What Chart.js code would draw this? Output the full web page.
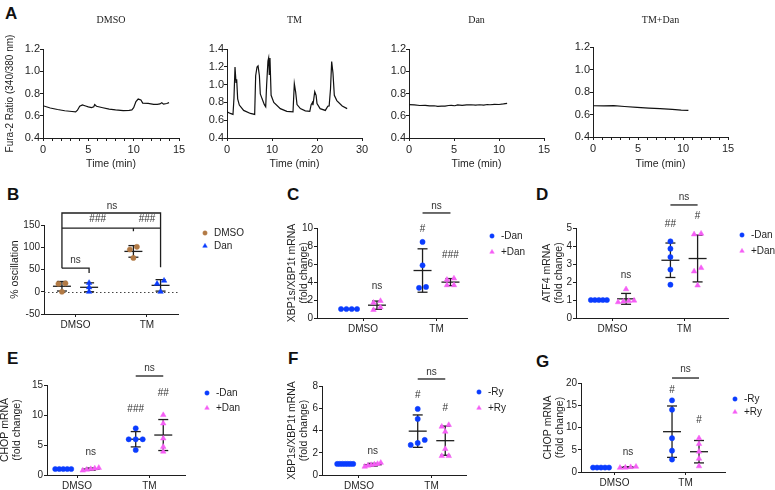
<!DOCTYPE html>
<html>
<head>
<meta charset="utf-8">
<script src="https://cdn.jsdelivr.net/npm/chart.js@4.4.1/dist/chart.umd.min.js"></script>
<style>
    html, body { margin: 0; padding: 0; background: #fff; }
    body { width: 775px; height: 490px; position: relative; overflow: hidden; }
    .letter { position: absolute; font: bold 17px "Liberation Sans", Arial, sans-serif; line-height: 17px; color: #111; }
</style>
</head>
<body>
<div class="letter" style="left:5px;top:5px">A</div>
<div class="letter" style="left:7px;top:186px">B</div>
<div class="letter" style="left:287px;top:186px">C</div>
<div class="letter" style="left:536px;top:186px">D</div>
<div class="letter" style="left:7px;top:350px">E</div>
<div class="letter" style="left:288px;top:350px">F</div>
<div class="letter" style="left:536px;top:353px">G</div>
<script>
// ---- A: Fura-2 ratio traces ----
const dmsoTime = [0, 0.8, 1.6, 2.4, 3.2, 3.6, 3.8, 4.05, 4.35, 4.7, 5.0, 5.35, 5.6, 5.7, 5.9, 6.6, 7.3, 8.0, 8.85, 9.5, 9.8, 10.0, 10.25, 10.5, 10.8, 11.0, 11.6, 12.2, 12.6, 12.9, 13.1, 13.3, 13.65, 13.9];
const dmsoRatio = [0.69, 0.67, 0.656, 0.645, 0.638, 0.634, 0.65, 0.686, 0.697, 0.688, 0.68, 0.674, 0.68, 0.70, 0.685, 0.672, 0.66, 0.652, 0.646, 0.648, 0.652, 0.672, 0.728, 0.75, 0.742, 0.714, 0.712, 0.702, 0.703, 0.706, 0.716, 0.704, 0.71, 0.718];

const tmTime = [0, 0.74, 1.33, 1.55, 1.78, 2.0, 2.15, 2.37, 2.74, 3.7, 5.2, 6.15, 6.37, 6.67, 6.9, 7.2, 7.4, 7.8, 8.3, 8.6, 8.8, 9.1, 9.26, 9.4, 9.55, 9.8, 10.4, 11.85, 13.3, 14.67, 14.96, 15.26, 15.56, 16.3, 17.4, 18.4, 18.7, 19.0, 19.1, 19.5, 19.8, 20.0, 20.7, 21.85, 22.4, 22.7, 23.0, 23.26, 23.55, 23.85, 24.4, 25.6, 26.7];
const tmRatio = [0.694, 0.676, 0.665, 0.85, 1.198, 1.025, 1.06, 0.84, 0.77, 0.71, 0.676, 0.665, 1.1, 1.198, 1.21, 1.1, 0.896, 0.84, 0.775, 0.75, 0.99, 1.264, 1.3, 1.116, 1.3, 0.88, 0.80, 0.73, 0.70, 0.694, 1.01, 0.915, 0.775, 0.73, 0.705, 0.70, 0.775, 0.80, 0.77, 0.92, 0.88, 0.786, 0.73, 0.71, 0.757, 0.76, 0.95, 1.26, 1.13, 0.88, 0.82, 0.76, 0.73];

const danTime = [0, 0.6, 1.2, 1.8, 2.3, 2.8, 3.2, 3.6, 4.0, 4.4, 4.7, 5.1, 5.4, 5.9, 6.4, 6.9, 7.4, 7.85, 8.3, 8.7, 9.0, 9.5, 10.0, 10.5, 10.9];
const danRatio = [0.70, 0.698, 0.692, 0.694, 0.688, 0.690, 0.684, 0.686, 0.686, 0.692, 0.694, 0.690, 0.698, 0.694, 0.697, 0.699, 0.695, 0.699, 0.696, 0.701, 0.699, 0.703, 0.701, 0.706, 0.712];

const tmDanTime = [0, 1.2, 2.3, 3.5, 4.9, 6.2, 7.45, 8.8, 9.8, 10.6];
const tmDanRatio = [0.678, 0.677, 0.679, 0.671, 0.663, 0.657, 0.652, 0.645, 0.639, 0.636];

// ---- B-G: scatter dot plots, one list per group ----
const groupNames = ['DMSO', 'TM'];

const bDmso = [[19, 18, 0], [101, 95, 76]];
const bDan = [[20, 10, 0], [25, 18, 0]];
const bBrackets = [
    [[0.81, 53], [0.81, 177], [2.19, 177], [2.19, 55]],
    [[0.81, 143], [2.19, 143]],
    [[1.81, 143], [1.81, 136]],
    [[0.81, 53], [1.19, 53], [1.19, 42]]
];
const bMarks = [
    { x: 1.51, y: 193, text: 'ns' },
    { x: 1.31, y: 163.5, text: '###' },
    { x: 2.0, y: 163.5, text: '###' },
    { x: 1.0, y: 71.3, text: 'ns' }
];

const cMinusDan = [[1, 1, 1, 1], [8.45, 5.85, 3.35, 3.45]];
const cPlusDan = [[1.9, 1.7, 1.2, 0.9], [4.25, 4.4, 3.65, 3.65]];
const cBrackets = [[[1.81, 11.67], [2.19, 11.67]]];
const cMarks = [
    { x: 2, y: 12.44, text: 'ns' },
    { x: 1.81, y: 9.89, text: '#' },
    { x: 2.19, y: 7.0, text: '###' },
    { x: 1.19, y: 3.56, text: 'ns' }
];

const dMinusDan = [[1, 1, 1, 1, 1], [4.26, 3.85, 3.39, 2.69, 1.85]];
const dPlusDan = [[1.6, 0.88, 0.92, 0.95, 0.97], [4.69, 4.65, 2.78, 2.59, 1.81]];
const dBrackets = [[[1.81, 6.28], [2.19, 6.28]]];
const dMarks = [
    { x: 2, y: 6.72, text: 'ns' },
    { x: 1.81, y: 5.22, text: '##' },
    { x: 2.19, y: 5.67, text: '#' },
    { x: 1.19, y: 2.39, text: 'ns' }
];

const eMinusDan = [[1, 1, 1, 1, 1], [7.78, 5.95, 5.95, 5.95, 4.17]];
const ePlusDan = [[1.2, 1.1, 1.0, 0.9, 0.75], [10.0, 8.6, 6.1, 4.7, 3.9]];
const eBrackets = [[[1.81, 16.5], [2.19, 16.5]]];
const eMarks = [
    { x: 2, y: 17.83, text: 'ns' },
    { x: 1.81, y: 11.0, text: '###' },
    { x: 2.19, y: 13.67, text: '##' },
    { x: 1.19, y: 3.83, text: 'ns' }
];

const fMinusRy = [[1, 1, 1, 1, 1, 1, 1], [5.94, 5.04, 3.15, 2.88, 2.7]];
const fPlusRy = [[1.1, 1.0, 0.95, 0.9, 0.85, 0.75], [4.35, 4.5, 3.9, 2.34, 1.71, 1.71]];
const fBrackets = [[[1.81, 8.63], [2.19, 8.63]]];
const fMarks = [
    { x: 2, y: 9.26, text: 'ns' },
    { x: 1.81, y: 7.19, text: '#' },
    { x: 2.19, y: 6.02, text: '#' },
    { x: 1.19, y: 2.16, text: 'ns' }
];

const gMinusRy = [[1, 1, 1, 1, 1], [16.1, 14.0, 7.6, 4.8, 2.8]];
const gPlusRy = [[1.2, 1.1, 1.0, 0.95], [7.6, 6.3, 4.6, 3.0, 1.3]];
const gBrackets = [[[1.81, 21.12], [2.19, 21.12]]];
const gMarks = [
    { x: 2, y: 23.15, text: 'ns' },
    { x: 1.81, y: 18.43, text: '#' },
    { x: 2.19, y: 11.69, text: '#' },
    { x: 1.19, y: 4.49, text: 'ns' }
];

const INK = '#1e1e1e';
const BLUE = '#0a3cff';
const PINK = '#f55ef5';
const BROWN = '#b27a45';
const SANS = '"Liberation Sans", Arial, Helvetica, sans-serif';
const GROUP_SHIFT = 0.19;

Chart.defaults.font.family = SANS;
Chart.defaults.color = INK;

function placeCanvas(f) {
    const left = f.l - f.yw, top = f.t - f.pt;
    const w = f.r - left + f.pr, h = f.b - top + f.xh;
    const c = document.createElement('canvas');
    c.width = w;
    c.height = h;
    c.style.cssText = `position:absolute;left:${left}px;top:${top}px;width:${w}px;height:${h}px`;
    document.body.appendChild(c);
    return c;
}

function axisLook(tickLen) {
    return {
        grid: { drawOnChartArea: false, drawTicks: true, tickLength: tickLen, color: INK, tickColor: INK, tickWidth: 1 },
        border: { display: true, color: INK, width: 1 }
    };
}

function traceChart(f, title, times, ratios, xCfg, yMax, yTitle) {
    const canvas = placeCanvas(f);
    new Chart(canvas, {
        type: 'scatter',
        data: {
            datasets: [{
                data: times.map((t, i) => ({ x: t, y: ratios[i] })),
                showLine: true,
                borderColor: '#111',
                borderWidth: 1.2,
                pointRadius: 0,
                tension: 0
            }]
        },
        options: {
            responsive: false,
            animation: false,
            devicePixelRatio: 1,
            layout: { padding: { left: 0, top: 0, right: f.pr, bottom: 0 } },
            plugins: {
                legend: { display: false },
                tooltip: { enabled: false },
                title: {
                    display: true, text: title, fullSize: false, color: '#222',
                    font: { family: '"Liberation Serif", "Times New Roman", serif', size: 10, weight: 'normal' },
                    padding: { top: 14, bottom: f.pt - 26 }
                }
            },
            scales: {
                x: {
                    type: 'linear', min: 0, max: xCfg.max,
                    afterFit: s => { s.height = f.xh; },
                    ...axisLook(3),
                    ticks: {
                        stepSize: xCfg.step, autoSkip: false, maxRotation: 0, padding: 2,
                        font: { size: 11 }, color: INK,
                        callback: v => (v % xCfg.label === 0 ? v : '')
                    },
                    title: { display: true, text: 'Time (min)', font: { size: 10.5 }, color: INK, padding: { top: 0, bottom: 4.7 } }
                },
                y: {
                    min: 0.4, max: yMax,
                    afterFit: s => { s.width = f.yw; },
                    ...axisLook(3),
                    ticks: { stepSize: 0.2, padding: 0, font: { size: 11 }, color: INK, callback: v => v.toFixed(1) },
                    title: yTitle
                        ? { display: true, text: yTitle, font: { size: 10 }, color: INK, padding: { top: 4, bottom: 0 } }
                        : { display: false }
                }
            }
        }
    });
}

// spread points that would overlap, the way a dot plot does
function spreadGroup(values, center, yPx, xPx) {
    const order = values.map((v, i) => i).sort((a, b) => values[a] - values[b]);
    const xs = new Array(values.length).fill(center);
    let run = [order[0]];
    const flush = () => {
        const n = run.length;
        const step = n > 1 ? Math.min(7, 16 / (n - 1)) : 0;
        run.forEach((idx, k) => { xs[idx] = center + (k - (n - 1) / 2) * step / xPx; });
    };
    for (let k = 1; k < order.length; k++) {
        if ((values[order[k]] - values[order[k - 1]]) * yPx < 4.4) run.push(order[k]);
        else { flush(); run = [order[k]]; }
    }
    flush();
    return values.map((v, i) => ({ x: xs[i], y: v }));
}

function meanSd(vals) {
    const n = vals.length;
    const m = vals.reduce((a, b) => a + b, 0) / n;
    const sd = n > 1 ? Math.sqrt(vals.reduce((a, b) => a + (b - m) ** 2, 0) / (n - 1)) : 0;
    return { mean: m, sd };
}

function dotSeries(s, p) {
    const f = p.frame;
    const xPx = (f.r - f.l) / (p.xMax - p.xMin);
    const yPx = (f.b - f.t) / (p.yMax - p.yMin);
    const data = [];
    const stats = [];
    s.values.forEach((vals, g) => {
        const c = g + 1 + s.side * GROUP_SHIFT;
        data.push(...spreadGroup(vals, c, yPx, xPx));
        stats.push({ x: c, ...meanSd(vals) });
    });
    const tri = s.style === 'triangle';
    return {
        label: s.label, data, stats,
        pointStyle: s.style,
        pointRadius: tri ? 3.2 : 2.6,
        backgroundColor: s.color,
        borderColor: s.color,
        borderWidth: 0.5
    };
}

const dotDecor = {
    id: 'dotDecor',
    beforeDatasetsDraw(chart, args, o) {
        const { ctx, chartArea: a, scales: { x, y } } = chart;
        ctx.save();
        if (o.zeroLine) {
            ctx.setLineDash([1.5, 2.5]);
            ctx.strokeStyle = '#444';
            ctx.lineWidth = 1;
            const py = Math.round(y.getPixelForValue(0)) + 0.5;
            ctx.beginPath(); ctx.moveTo(a.left, py); ctx.lineTo(a.right, py); ctx.stroke();
            ctx.setLineDash([]);
        }
        ctx.strokeStyle = INK;
        ctx.lineWidth = 1.3;
        const seg = (x1, y1, x2, y2) => { ctx.beginPath(); ctx.moveTo(x1, y1); ctx.lineTo(x2, y2); ctx.stroke(); };
        chart.data.datasets.forEach(ds => ds.stats.forEach(st => {
            const px = x.getPixelForValue(st.x);
            const pm = y.getPixelForValue(st.mean);
            seg(px - 9, pm, px + 9, pm);
            if (st.sd > 0) {
                const hi = y.getPixelForValue(st.mean + st.sd);
                const lo = y.getPixelForValue(st.mean - st.sd);
                seg(px, hi, px, lo);
                seg(px - 5, hi, px + 5, hi);
                seg(px - 5, lo, px + 5, lo);
            }
        }));
        (o.lines || []).forEach(path => {
            ctx.beginPath();
            path.forEach(([vx, vy], i) => {
                const X = x.getPixelForValue(vx), Y = y.getPixelForValue(vy);
                if (i) ctx.lineTo(X, Y); else ctx.moveTo(X, Y);
            });
            ctx.stroke();
        });
        ctx.restore();
    },
    afterDatasetsDraw(chart, args, o) {
        const { ctx, chartArea: a, scales: { x, y } } = chart;
        ctx.save();
        ctx.fillStyle = '#333';
        ctx.font = '10px ' + SANS;
        ctx.textAlign = 'center';
        ctx.textBaseline = 'middle';
        (o.marks || []).forEach(m => ctx.fillText(m.text, x.getPixelForValue(m.x), y.getPixelForValue(m.y)));

        const lg = o.legend;
        chart.data.datasets.forEach((ds, i) => {
            const lx = a.right + lg.dx, ly = a.top + lg.dy + i * lg.gap;
            ctx.fillStyle = ds.backgroundColor;
            ctx.strokeStyle = ds.borderColor;
            ctx.lineWidth = 0.5;
            Chart.helpers.drawPoint(ctx, { pointStyle: ds.pointStyle, radius: ds.pointStyle === 'triangle' ? 2.6 : 2.2, rotation: 0, borderWidth: 0.5 }, lx, ly);
            ctx.fillStyle = INK;
            ctx.textAlign = 'left';
            ctx.fillText(ds.label, lx + 9, ly);
        });
        ctx.restore();
    }
};

function dotPanel(p) {
    const f = p.frame;
    const canvas = placeCanvas(f);
    new Chart(canvas, {
        type: 'scatter',
        data: { datasets: p.series.map(s => dotSeries(s, p)) },
        options: {
            responsive: false,
            animation: false,
            devicePixelRatio: 1,
            clip: false,
            layout: { padding: { left: 0, top: f.pt, right: f.pr, bottom: 0 } },
            plugins: {
                legend: { display: false },
                tooltip: { enabled: false },
                dotDecor: { lines: p.lines, marks: p.marks, legend: p.legend, zeroLine: p.zeroLine }
            },
            scales: {
                x: {
                    type: 'linear', min: p.xMin, max: p.xMax,
                    afterFit: s => { s.height = f.xh; },
                    afterBuildTicks: s => { s.ticks = groupNames.map((n, i) => ({ value: i + 1 })); },
                    ...axisLook(3),
                    ticks: { padding: 2.5, font: { size: 10 }, color: INK, maxRotation: 0, callback: v => groupNames[v - 1] || '' }
                },
                y: {
                    min: p.yMin, max: p.yMax,
                    afterFit: s => { s.width = f.yw; },
                    ...axisLook(3),
                    ticks: { stepSize: p.yStep, padding: 1, font: { size: 10 }, color: INK },
                    title: { display: true, text: p.yTitle, color: INK, font: { size: 10.5, lineHeight: 1.143 }, padding: { top: p.yTitlePad, bottom: 0 } }
                }
            }
        },
        plugins: [dotDecor]
    });
}

// ---- panel A ----
traceChart({ l: 43, t: 49, r: 179, b: 138, yw: 43, pt: 49, xh: 37, pr: 12 }, 'DMSO', dmsoTime, dmsoRatio,
    { max: 15, step: 1, label: 5 }, 1.2, 'Fura-2 Ratio (340/380 nm)');
traceChart({ l: 227, t: 49, r: 362, b: 138, yw: 30, pt: 49, xh: 37, pr: 12 }, 'TM', tmTime, tmRatio,
    { max: 30, step: 10, label: 10 }, 1.4, null);
traceChart({ l: 409, t: 49, r: 544, b: 138, yw: 30, pt: 49, xh: 37, pr: 12 }, 'Dan', danTime, danRatio,
    { max: 15, step: 5, label: 5 }, 1.2, null);
traceChart({ l: 593, t: 47, r: 728, b: 137, yw: 30, pt: 47, xh: 38, pr: 12 }, 'TM+Dan', tmDanTime, tmDanRatio,
    { max: 15, step: 1, label: 5 }, 1.2, null);

// ---- panels B-G ----
dotPanel({
    frame: { l: 44, t: 225, r: 178, b: 314, yw: 44, pt: 35, xh: 21, pr: 75 },
    xMin: 0.559, xMax: 2.434, yMin: -50, yMax: 150, yStep: 50,
    yTitle: '% oscillation', yTitlePad: 8.7, zeroLine: true,
    series: [
        { label: 'DMSO', values: bDmso, color: BROWN, style: 'circle', side: -1 },
        { label: 'Dan', values: bDan, color: BLUE, style: 'triangle', side: 1 }
    ],
    lines: bBrackets, marks: bMarks, legend: { dx: 27, dy: 8, gap: 13 }
});
dotPanel({
    frame: { l: 317, t: 228, r: 467, b: 318, yw: 40, pt: 38, xh: 17, pr: 65 },
    xMin: 0.374, xMax: 2.415, yMin: 0, yMax: 10, yStep: 2,
    yTitle: ['XBP1s/XBP1t mRNA', '(fold change)'], yTitlePad: 8.7,
    series: [
        { label: '-Dan', values: cMinusDan, color: BLUE, style: 'circle', side: -1 },
        { label: '+Dan', values: cPlusDan, color: PINK, style: 'triangle', side: 1 }
    ],
    lines: cBrackets, marks: cMarks, legend: { dx: 25, dy: 8, gap: 16 }
});
dotPanel({
    frame: { l: 576, t: 228, r: 728, b: 318, yw: 36, pt: 38, xh: 17, pr: 47 },
    xMin: 0.49, xMax: 2.615, yMin: 0, yMax: 5, yStep: 1,
    yTitle: ['ATF4 mRNA', '(fold change)'], yTitlePad: 0.7,
    series: [
        { label: '-Dan', values: dMinusDan, color: BLUE, style: 'circle', side: -1 },
        { label: '+Dan', values: dPlusDan, color: PINK, style: 'triangle', side: 1 }
    ],
    lines: dBrackets, marks: dMarks, legend: { dx: 14, dy: 7, gap: 16 }
});
dotPanel({
    frame: { l: 47, t: 385, r: 185, b: 475, yw: 49, pt: 40, xh: 15, pr: 70 },
    xMin: 0.586, xMax: 2.49, yMin: 0, yMax: 15, yStep: 5,
    yTitle: ['CHOP mRNA', '(fold change)'], yTitlePad: 1,
    series: [
        { label: '-Dan', values: eMinusDan, color: BLUE, style: 'circle', side: -1 },
        { label: '+Dan', values: ePlusDan, color: PINK, style: 'triangle', side: 1 }
    ],
    lines: eBrackets, marks: eMarks, legend: { dx: 22, dy: 8, gap: 15 }
});
dotPanel({
    frame: { l: 322, t: 386, r: 466, b: 475, yw: 40, pt: 41, xh: 15, pr: 64 },
    xMin: 0.49, xMax: 2.476, yMin: 0, yMax: 8, yStep: 2,
    yTitle: ['XBP1s/XBP1t mRNA', '(fold change)'], yTitlePad: 3.7,
    series: [
        { label: '-Ry', values: fMinusRy, color: BLUE, style: 'circle', side: -1 },
        { label: '+Ry', values: fPlusRy, color: PINK, style: 'triangle', side: 1 }
    ],
    lines: fBrackets, marks: fMarks, legend: { dx: 13, dy: 6, gap: 16 }
});
dotPanel({
    frame: { l: 581, t: 383, r: 725, b: 472, yw: 40, pt: 38, xh: 18, pr: 50 },
    xMin: 0.528, xMax: 2.556, yMin: 0, yMax: 20, yStep: 5,
    yTitle: ['CHOP mRNA', '(fold change)'], yTitlePad: 1.3,
    series: [
        { label: '-Ry', values: gMinusRy, color: BLUE, style: 'circle', side: -1 },
        { label: '+Ry', values: gPlusRy, color: PINK, style: 'triangle', side: 1 }
    ],
    lines: gBrackets, marks: gMarks, legend: { dx: 10, dy: 16, gap: 13 }
});
</script>
</body>
</html>
